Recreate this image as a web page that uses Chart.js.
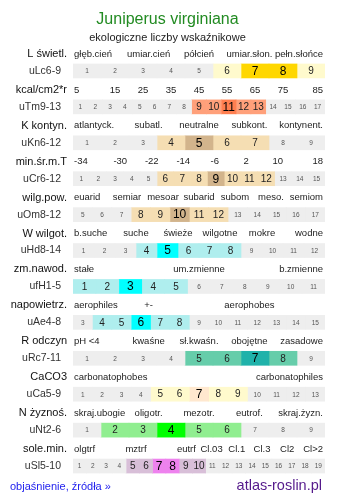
<!DOCTYPE html>
<html>
<head>
<meta charset="utf-8">
<script src="https://cdn.jsdelivr.net/npm/chart.js@4"></script>
<style>
  body { margin: 0; background: #fff; }
</style>
</head>
<body>
<canvas id="myChart" width="337" height="502"></canvas>
<script>
const rowNames = ['L świetl.', 'kcal/cm2*r', 'K kontyn.', 'min.śr.m.T', 'wilg.pow.', 'W wilgot.', 'zm.nawod.', 'napowietrz.', 'R odczyn', 'CaCO3', 'N żyznoś.', 'sole.min.'];
const rowCodes = ['uLc6-9', 'uTm9-13', 'uKn6-12', 'uCr6-12', 'uOm8-12', 'uHd8-14', 'ufH1-5', 'uAe4-8', 'uRc7-11', 'uCa5-9', 'uNt2-6', 'uSl5-10'];
const scaleLabels = [
  ['głęb.cień', 'umiar.cień', 'półcień', 'umiar.słon.', 'pełn.słońce'],
  ['5', '15', '25', '35', '45', '55', '65', '75', '85'],
  ['atlantyck.', 'subatl.', 'neutralne', 'subkont.', 'kontynent.'],
  ['-34', '-30', '-22', '-14', '-6', '2', '10', '18'],
  ['euarid', 'semiar', 'mesoar', 'subarid', 'subom', 'meso.', 'semiom'],
  ['b.suche', 'suche', 'świeże', 'wilgotne', 'mokre', 'wodne'],
  ['stałe', 'um.zmienne', 'b.zmienne'],
  ['aerophiles', '+-', '', 'aerophobes', ''],
  ['pH <4', 'kwaśne', 'sł.kwaśn.', 'obojętne', 'zasadowe'],
  ['carbonatophobes', 'carbonatophiles'],
  ['skraj.ubogie', 'oligotr.', 'mezotr.', 'eutrof.', 'skraj.żyzn.'],
  ['olgtrf', '', 'mztrf', '', 'eutrf', 'Cl.03', 'Cl.1', 'Cl.3', 'Cl2', 'Cl>2']
];
// first / last cell number of each scale
const cellFirst = [1, 1, 1, 1, 5, 1, 1, 3, 1, 1, 1, 1];
const cellLast  = [9, 17, 9, 15, 17, 12, 11, 15, 9, 13, 9, 19];
// range of the species and its optimum
const rangeFrom = [6, 9, 4, 6, 8, 4, 1, 4, 5, 5, 2, 5];
const rangeTo   = [9, 13, 7, 12, 12, 8, 5, 8, 8, 9, 6, 10];
const peakFrom  = [7, 11, 5, 9, 10, 5, 3, 6, 7, 7, 4, 7];
const peakTo    = [8, 11, 5, 9, 10, 5, 3, 6, 7, 7, 4, 8];

const rangeColors = ['#fffacd', '#ffa07a', '#f5deb3', '#f5deb3', '#f5deb3', '#afeeee', '#afeeee', '#afeeee', '#66cdaa', '#fffacd', '#90ee90', '#d8bfd8'];
const peakColors  = ['#ffd700', '#ff7f50', '#d2b48c', '#d2b48c', '#d2b48c', '#00ffff', '#00ffff', '#00ffff', '#20b2aa', '#ffe8cf', '#00ff00', '#ee82ee'];
const offColor = '#eeeeee';
const fontFamily = 'Liberation Sans, Arial, sans-serif';

Chart.defaults.font.family = fontFamily;

function cellKind(r, v) {
  if (v >= peakFrom[r] && v <= peakTo[r]) return 'peak';
  if (v >= rangeFrom[r] && v <= rangeTo[r]) return 'range';
  return 'off';
}

function cellColor(r, v) {
  let k = cellKind(r, v);
  if (k == 'peak') return peakColors[r];
  if (k == 'range') return rangeColors[r];
  return offColor;
}

let maxCells = 0;
for (let r = 0; r < rowCodes.length; r++) {
  maxCells = Math.max(maxCells, cellLast[r] - cellFirst[r] + 1);
}

const datasets = [];
for (let j = 0; j < maxCells; j++) {
  datasets.push({
    data: rowCodes.map(function(c, r) {
      let n = cellLast[r] - cellFirst[r] + 1;
      return j < n ? [j / n, (j + 1) / n] : null;
    }),
    backgroundColor: function(ctx) {
      return cellColor(ctx.dataIndex, cellFirst[ctx.dataIndex] + j);
    },
    borderWidth: 0,
    barThickness: 14,
    grouped: false
  });
}

// numbers inside the cells
const cellText = {
  id: 'cellText',
  afterDatasetsDraw(chart) {
    const ctx = chart.ctx;
    ctx.save();
    ctx.textAlign = 'center';
    ctx.textBaseline = 'middle';
    chart.data.datasets.forEach(function(ds, j) {
      chart.getDatasetMeta(j).data.forEach(function(bar, r) {
        if (ds.data[r] == null) return;
        let v = cellFirst[r] + j;
        let k = cellKind(r, v);
        if (k == 'peak') {
          ctx.font = '12px ' + fontFamily;
          ctx.fillStyle = '#000';
        } else if (k == 'range') {
          ctx.font = '10px ' + fontFamily;
          ctx.fillStyle = '#222';
        } else {
          ctx.font = '6.5px ' + fontFamily;
          ctx.fillStyle = '#555';
        }
        ctx.fillText(String(v), (bar.x + bar.base) / 2, bar.y + 0.5);
      });
    });
    ctx.restore();
  }
};

// scale names above each row, row names on the left, footer
const headers = {
  id: 'headers',
  afterDraw(chart) {
    const ctx = chart.ctx;
    const area = chart.chartArea;
    const yS = chart.scales.y;
    ctx.save();
    ctx.textBaseline = 'middle';
    scaleLabels.forEach(function(labels, r) {
      let y = yS.getPixelForValue(r) - 17;
      let w = (area.right - area.left) / labels.length;
      ctx.font = '9.5px ' + fontFamily;
      ctx.fillStyle = '#222';
      labels.forEach(function(t, k) {
        if (k == 0) {
          ctx.textAlign = 'left';
          ctx.fillText(t, area.left + 1, y);
        } else if (k == labels.length - 1) {
          ctx.textAlign = 'right';
          ctx.fillText(t, area.right - 2, y);
        } else {
          ctx.textAlign = 'center';
          ctx.fillText(t, area.left + (k + 0.5) * w, y);
        }
      });
      ctx.font = '11px ' + fontFamily;
      ctx.fillStyle = '#111';
      ctx.textAlign = 'right';
      ctx.fillText(rowNames[r], area.left - 6, y);
    });
    let fy = area.bottom + 3;
    ctx.font = '11px ' + fontFamily;
    ctx.fillStyle = '#2222ee';
    ctx.textAlign = 'left';
    ctx.fillText('objaśnienie, źródła »', 10, fy);
    ctx.font = '14.5px ' + fontFamily;
    ctx.fillStyle = '#551a8b';
    ctx.textAlign = 'right';
    ctx.fillText('atlas-roslin.pl', area.right - 3, fy - 1);
    ctx.restore();
  }
};

new Chart('myChart', {
  type: 'bar',
  data: {
    labels: rowCodes,
    datasets: datasets
  },
  options: {
    indexAxis: 'y',
    responsive: false,
    animation: false,
    devicePixelRatio: 1,
    layout: { padding: { left: 10, right: 12, top: 0, bottom: 18 } },
    scales: {
      x: { display: false, min: 0, max: 1 },
      y: {
        grid: { display: false },
        border: { display: false },
        ticks: { color: '#333', font: { size: 10.5 }, padding: 4 },
        afterFit: function(scale) { scale.width = 63; }
      }
    },
    plugins: {
      legend: { display: false },
      tooltip: { enabled: false },
      title: {
        display: true,
        text: 'Juniperus virginiana',
        color: '#228b22',
        font: { size: 16, weight: 'normal' },
        padding: { top: 10, bottom: 2 }
      },
      subtitle: {
        display: true,
        text: 'ekologiczne liczby wskaźnikowe',
        color: '#222',
        font: { size: 11, weight: 'normal' },
        padding: { top: 0, bottom: 8.6 }
      }
    }
  },
  plugins: [cellText, headers]
});
</script>
</body>
</html>
